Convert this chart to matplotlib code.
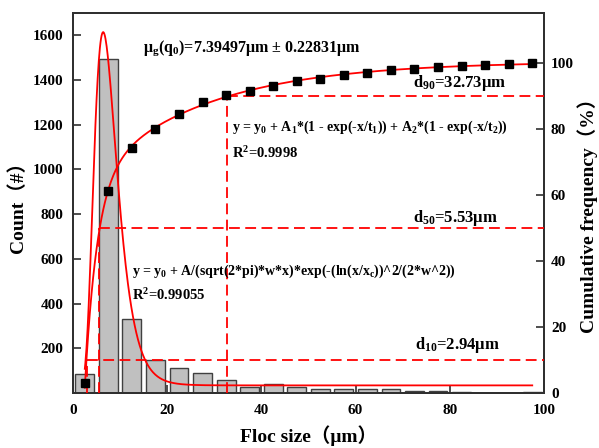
import numpy as np
import matplotlib
matplotlib.use("Agg")
import matplotlib.pyplot as plt

# ---------------- data ----------------
floc_size = [2.5, 7.5, 12.5, 17.5, 22.5, 27.5, 32.5, 37.5, 42.5, 47.5,
             52.5, 57.5, 62.5, 67.5, 72.5, 77.5, 82.5, 87.5, 92.5, 97.5]
counts = [87, 1495, 333, 146, 112, 90, 57, 27, 39, 27,
          20, 19, 16, 16, 9, 9, 5, 2, 2, 5]
cumulative = [2.9, 61.1, 74.2, 79.9, 84.5, 88.0, 90.2, 91.5, 93.0, 94.3,
              95.1, 96.1, 96.8, 97.6, 98.1, 98.6, 99.0, 99.3, 99.6, 99.9]

# log-normal fit parameters (left axis)
ln_y0 = 34.0
ln_xc = 7.39497
ln_w = 0.38
ln_A = 10358.0

# characteristic diameters
d_values = [2.94, 5.53, 32.73]
d_percent = [10, 50, 90]
d_labels = [r"d$_{10}$=2.94μm", r"d$_{50}$=5.53μm", r"d$_{90}$=32.73μm"]

x_ticks = [0, 20, 40, 60, 80, 100]
left_ticks = [200, 400, 600, 800, 1000, 1200, 1400, 1600]
right_ticks = [0, 20, 40, 60, 80, 100]

# ---------------- style ----------------
plt.rcParams['font.family'] = ['Liberation Serif', 'Noto Sans CJK SC', 'DejaVu Sans']
plt.rcParams['font.weight'] = 'bold'
plt.rcParams['mathtext.fontset'] = 'custom'
plt.rcParams['mathtext.rm'] = 'Liberation Serif:bold'
plt.rcParams['mathtext.it'] = 'Liberation Serif:bold'
plt.rcParams['mathtext.bf'] = 'Liberation Serif:bold'

fig = plt.figure(figsize=(5.99, 4.48), dpi=100)
ax1 = fig.add_axes([0.1219, 0.1228, 0.7863, 0.8482])
ax2 = ax1.twinx()

spine_col = '#303030'

# bars
ax1.bar(floc_size, counts, width=4.0, color='#c0c0c0', edgecolor='#404040',
        linewidth=1.0, zorder=2)

# log-normal curve
xs = np.linspace(floc_size[0], floc_size[-1], 800)
ln_curve = ln_y0 + ln_A / (np.sqrt(2 * np.pi) * ln_w * xs) * \
    np.exp(-(np.log(xs / ln_xc)) ** 2 / (2 * ln_w ** 2))
ax1.plot(xs, ln_curve, color='red', lw=1.3, zorder=3)

ax1.set_xlim(0, 100)
ax1.set_ylim(0, 1700)
ax2.set_ylim(0, 115)

# cumulative fit (double exponential, least squares from the points + d-values)
xf = np.array(floc_size + d_values, dtype=float)
yf = np.array(cumulative + d_percent, dtype=float)
best = None
for t1 in np.linspace(0.5, 12, 116):
    for t2 in np.linspace(5, 80, 151):
        M = np.column_stack([np.ones_like(xf), 1 - np.exp(-xf / t1), 1 - np.exp(-xf / t2)])
        coef = np.linalg.lstsq(M, yf, rcond=None)[0]
        err = np.sum((M @ coef - yf) ** 2)
        if best is None or err < best[0]:
            best = (err, t1, t2, coef)
_, t1, t2, (y0c, A1, A2) = best
cum_curve = y0c + A1 * (1 - np.exp(-xs / t1)) + A2 * (1 - np.exp(-xs / t2))
ax2.plot(xs, cum_curve, color='red', lw=1.3, zorder=4)
ax2.plot(floc_size, cumulative, 's', color='black', ms=5.5, zorder=5)

# dashed d-lines
dash = (0, (6, 3))
for d, p in zip(d_values, d_percent):
    ax2.plot([d, 100], [p, p], color='red', lw=1.3, ls=dash, zorder=3)
    ax2.plot([d, d], [0, p], color='red', lw=1.3, ls=dash, zorder=3)

# texts
ax2.text(14.9, 104.2, r"μ$_\mathrm{g}$(q$_\mathrm{0}$)=7.39497μm ± 0.22831μm",
         fontsize=11.5, fontweight='bold', va='center', ha='left')
ax2.text(33.8, 80.3, r"y = y$_0$ + A$_1$*(1 - exp(-x/t$_1$)) + A$_2$*(1 - exp(-x/t$_2$))",
         fontsize=10, fontweight='bold', va='center', ha='left')
ax2.text(33.8, 72.7, r"R$^2$=0.9998", fontsize=10.5, fontweight='bold', va='center', ha='left')
ax2.text(12.5, 36.7, r"y = y$_0$ + A/(sqrt(2*pi)*w*x)*exp(-(ln(x/x$_c$))^2/(2*w^2))",
         fontsize=10, fontweight='bold', va='center', ha='left')
ax2.text(12.5, 29.7, r"R$^2$=0.99055", fontsize=10.5, fontweight='bold', va='center', ha='left')
d_text_pos = [(90.6, 14.5), (90.2, 53.0), (92.1, 93.8)]
for (tx, ty), lab in zip(d_text_pos, d_labels):
    ax2.text(tx, ty, lab, fontsize=12, fontweight='bold', va='center', ha='right')

# axes styling
ax1.set_xticks(x_ticks)
ax1.set_yticks(left_ticks)
ax2.set_yticks(right_ticks)
for ax in (ax1, ax2):
    for s in ax.spines.values():
        s.set_color(spine_col)
        s.set_linewidth(1.4)
    ax.tick_params(direction='in', length=6, width=1.2, color=spine_col,
                   labelsize=11)
ax1.tick_params(axis='x', pad=8)
ax1.tick_params(axis='y', pad=7)
ax2.tick_params(axis='y', pad=5)
ax1.tick_params(top=False)
for lab in ax1.get_xticklabels() + ax1.get_yticklabels() + ax2.get_yticklabels():
    lab.set_fontweight('bold')

ax1.set_xlabel("Floc size（μm）", fontsize=14, fontweight='bold', labelpad=6)
ax1.set_ylabel("Count（#）", fontsize=14, fontweight='bold', labelpad=4)
ax2.set_ylabel("Cumulative frequency（%）", fontsize=14, fontweight='bold',
               rotation=90, ha='center', va='center')
ax2.yaxis.set_label_coords(1.093, 0.48)

fig.savefig("out.png", dpi=100)
